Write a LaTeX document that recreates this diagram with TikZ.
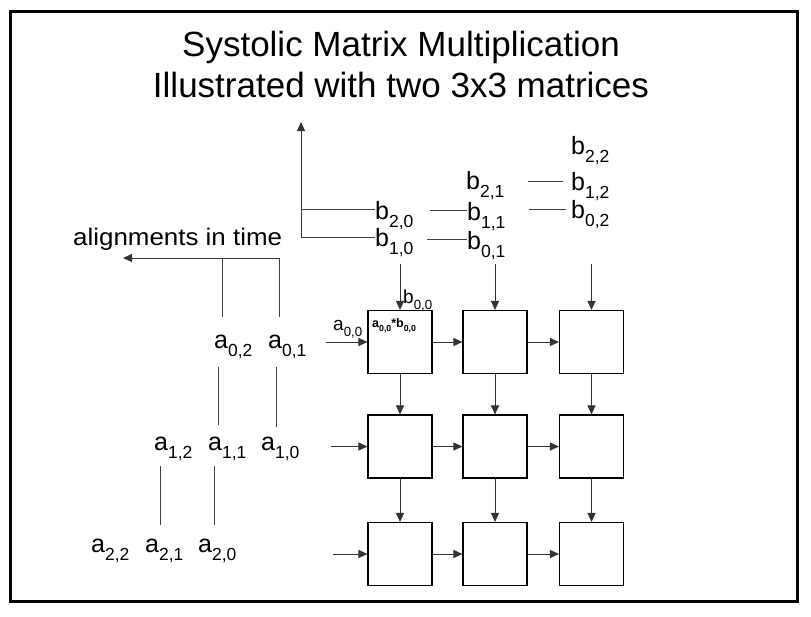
\documentclass[tikz,border=0pt]{standalone}
\usepackage{fontspec}
\setmainfont{Liberation Sans}
\usepackage{graphicx}
\usetikzlibrary{arrows.meta}
\newcommand\sbs[1]{\raisebox{-0.35em}{\scalebox{0.7}{#1}}}
\tikzset{
  lab/.style={anchor=base west, inner sep=0pt, font=\fontsize{25}{28}\selectfont},
  smalllab/.style={anchor=base west, inner sep=0pt, font=\fontsize{19}{22}\selectfont},
  pe/.style={draw=black, line width=1.1pt, minimum width=64pt, minimum height=63pt, inner sep=0pt},
  ln/.style={draw=black!75, line width=1pt},
  arr/.style={draw=black!80, line width=1pt, -{Triangle[length=9pt,width=8pt]}},
}
\begin{document}
\begin{tikzpicture}[x=1pt,y=-1pt]
\useasboundingbox (0,0) rectangle (811,616);
\fill[white] (0,0) rectangle (811,616);
\draw[line width=3pt] (10,11) rectangle (797,601);

% title
\node[font=\fontsize{35}{41}\selectfont, anchor=base, inner sep=0pt] (t1) at (401,56) {Systolic Matrix Multiplication};
\node[font=\fontsize{35}{41}\selectfont, anchor=base, inner sep=0pt] (t2) at (401,97) {Illustrated with two 3x3 matrices};

% B matrix labels
\node[lab] (b22) at (571,154) {b\sbs{2,2}};
\node[lab] (b21) at (466,189) {b\sbs{2,1}};
\node[lab] (b12) at (571,190) {b\sbs{1,2}};
\node[lab] (b20) at (375,219) {b\sbs{2,0}};
\node[lab] (b11) at (467,220) {b\sbs{1,1}};
\node[lab] (b02) at (571,218) {b\sbs{0,2}};
\node[lab] (b10) at (375,246) {b\sbs{1,0}};
\node[lab] (b01) at (467,249) {b\sbs{0,1}};

\coordinate (h20) at ([yshift=10pt]b20.base west);
\coordinate (h10) at ([yshift=9pt]b10.base west);
\coordinate (axtop) at (301,122);
\draw[arr] (axtop |- h10) -- (axtop);
\draw[ln] (axtop |- h20) -- (h20);
\draw[ln] (axtop |- h10) -- (h10);

\coordinate (h11) at ([yshift=10pt]b11.base west);
\coordinate (h01) at ([yshift=10pt]b01.base west);
\coordinate (h12) at ([xshift=-8pt,yshift=9pt]b12.base west);
\coordinate (h02) at ([xshift=-5pt,yshift=9pt]b02.base west);
\draw[ln] (430,0 |- h11) -- (h11);
\draw[ln] (427,0 |- h01) -- (h01);
\draw[ln] (528,0 |- h12) -- (h12);
\draw[ln] (529,0 |- h02) -- (h02);

% A matrix labels
\node[font=\fontsize{24}{28}\selectfont, anchor=base west, inner sep=0pt] (align) at (73,245) {\scalebox{1.08}[1]{alignments in time}};
\node[lab] (a02) at (214,348) {a\sbs{0,2}};
\node[lab] (a01) at (268,348) {a\sbs{0,1}};
\node[lab] (a12) at (154,450) {a\sbs{1,2}};
\node[lab] (a11) at (208,450) {a\sbs{1,1}};
\node[lab] (a10) at (261,450) {a\sbs{1,0}};
\node[lab] (a22) at (91,552) {a\sbs{2,2}};
\node[lab] (a21) at (145,552) {a\sbs{2,1}};
\node[lab] (a20) at (198,552) {a\sbs{2,0}};

\coordinate (al1) at (279,258);
\coordinate (al2) at (222,258);
\coordinate (altip) at (123,258);
\draw[arr] (al1) -- (altip);
\draw[ln] (al1) -- (279,317);
\draw[ln] (al2) -- (222,317);
\draw[ln] (218,367) -- (218,425);
\draw[ln] (276,367) -- (276,427);
\draw[ln] (160,466) -- (160,525);
\draw[ln] (214,466) -- (214,525);

% processing elements
\node[pe] (p11) at (400,342) {};
\node[pe] (p12) at (495,342) {};
\node[pe] (p13) at (591.5,342) {};
\node[pe] (p21) at (400,446.5) {};
\node[pe] (p22) at (495,446.5) {};
\node[pe] (p23) at (591.5,446.5) {};
\node[pe] (p31) at (400,554) {};
\node[pe] (p32) at (495,554) {};
\node[pe] (p33) at (591.5,554) {};

\node[anchor=base west, inner sep=0pt, font=\bfseries\fontsize{12.5}{14}\selectfont] (prod) at (372,327) {a\sbs{0,0}*b\sbs{0,0}};
\node[smalllab] (a00) at (333,330) {a\sbs{0,0}};
\node[smalllab] (b00) at (403,303) {b\sbs{0,0}};

% top inputs
\draw[arr] (p11.north) ++(0,-46) -- (p11.north);
\draw[arr] (p12.north) ++(0,-46) -- (p12.north);
\draw[arr] (p13.north) ++(0,-46) -- (p13.north);
% left inputs
\draw[arr] (p11.west) ++(-41,0) -- (p11.west);
\draw[arr] (p21.west) ++(-36,0) -- (p21.west);
\draw[arr] (p31.west) ++(-34,0) -- (p31.west);
% horizontal links
\draw[arr] (p11) -- (p12);
\draw[arr] (p12) -- (p13);
\draw[arr] (p21) -- (p22);
\draw[arr] (p22) -- (p23);
\draw[arr] (p31) -- (p32);
\draw[arr] (p32) -- (p33);
% vertical links
\draw[arr] (p11) -- (p21);
\draw[arr] (p12) -- (p22);
\draw[arr] (p13) -- (p23);
\draw[arr] (p21) -- (p31);
\draw[arr] (p22) -- (p32);
\draw[arr] (p23) -- (p33);
\end{tikzpicture}
\end{document}
